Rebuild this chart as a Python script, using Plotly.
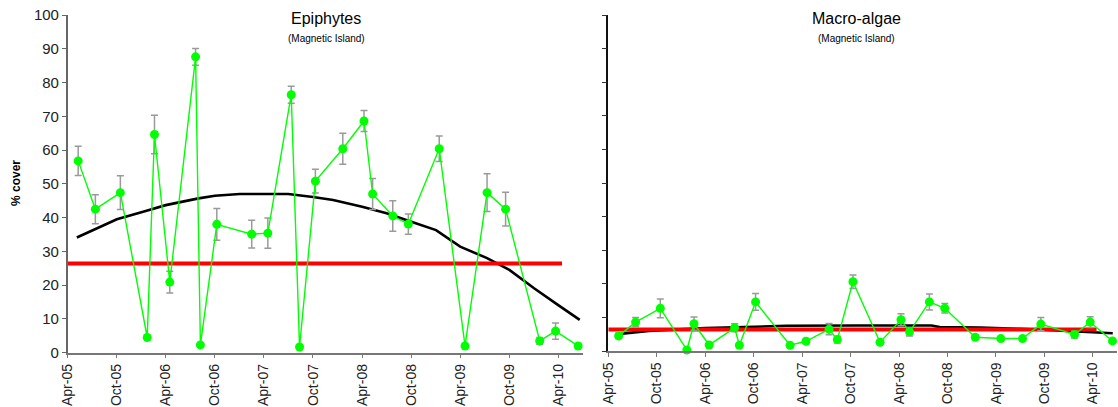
import plotly.graph_objects as go

# ---------------- data ----------------
sample_dates = [
    "2005-05-10", "2005-07-13", "2005-10-14", "2006-01-22", "2006-02-18",
    "2006-04-16", "2006-07-21", "2006-08-08", "2006-10-08", "2007-02-15",
    "2007-04-16", "2007-07-12", "2007-08-12", "2007-10-10", "2008-01-20",
    "2008-04-08", "2008-05-10", "2008-07-24", "2008-09-20", "2009-01-13",
    "2009-04-19", "2009-07-10", "2009-09-17", "2010-01-22", "2010-03-22",
    "2010-06-14",
]

epi_cover = [56.8, 42.5, 47.4, 4.5, 64.6, 20.9, 87.6, 2.3, 38.0, 35.1,
             35.4, 76.4, 1.7, 50.8, 60.4, 68.6, 47.0, 40.5, 38.1, 60.4,
             2.0, 47.4, 42.5, 3.5, 6.4, 2.0]
epi_se = [4.3, 4.3, 5.0, 0.4, 5.7, 3.2, 2.5, 0.4, 4.7, 4.1,
          4.5, 2.5, 0.4, 3.5, 4.6, 3.1, 4.6, 4.5, 3.0, 3.8,
          0.4, 5.6, 5.0, 1.0, 2.4, 0.4]

mac_cover = [4.5, 8.6, 12.7, 0.3, 8.1, 1.8, 6.9, 1.7, 14.6, 1.7,
             2.9, 6.5, 3.4, 20.6, 2.6, 9.3, 5.7, 14.6, 12.7, 4.1,
             3.7, 3.7, 8.0, 4.9, 8.6, 3.0]
mac_se = [0.8, 1.4, 2.8, 0.3, 2.0, 0.4, 1.2, 0.4, 2.5, 0.4,
          0.5, 1.7, 1.0, 2.0, 0.4, 1.8, 1.2, 2.4, 1.4, 0.5,
          0.4, 0.5, 2.0, 1.0, 1.6, 0.4]

epi_trend_dates = ["2005-05-05", "2005-10-01", "2006-01-10", "2006-04-01",
                   "2006-08-01", "2006-10-01", "2007-01-01", "2007-07-01",
                   "2007-10-01", "2007-12-15", "2008-04-01", "2008-07-01",
                   "2008-10-01", "2009-01-01", "2009-04-01", "2009-07-10",
                   "2009-10-01", "2010-01-01", "2010-04-01", "2010-06-20"]
epi_trend = [34.1, 39.5, 41.8, 43.7, 45.7, 46.5, 47.0, 47.0,
             46.1, 45.2, 43.2, 41.3, 38.8, 36.3, 31.4, 28.0,
             24.5, 19.1, 14.1, 9.7]

mac_trend_dates = ["2005-05-15", "2005-09-01", "2006-04-01", "2006-08-01",
                   "2007-02-01", "2007-11-01", "2008-08-01", "2008-09-01",
                   "2009-02-01", "2009-07-01", "2010-01-01", "2010-06-15"]
mac_trend = [5.1, 6.0, 6.8, 7.1, 7.5, 7.6, 7.6, 7.1, 7.0, 6.6, 6.0, 5.3]

mean_dates = ["2005-04-01", "2010-04-15"]
epi_mean = [26.4, 26.4]
mac_mean = [6.4, 6.4]

tick_dates = ["2005-04-01", "2005-10-01", "2006-04-01", "2006-10-01",
              "2007-04-01", "2007-10-01", "2008-04-01", "2008-10-01",
              "2009-04-01", "2009-10-01", "2010-04-01"]
tick_labels = ["Apr-05", "Oct-05", "Apr-06", "Oct-06", "Apr-07", "Oct-07",
               "Apr-08", "Oct-08", "Apr-09", "Oct-09", "Apr-10"]
y_ticks = [0, 10, 20, 30, 40, 50, 60, 70, 80, 90, 100]

titles = ["Epiphytes", "Macro-algae"]
subtitle = "(Magnetic Island)"
y_title = "% cover"

# ---------------- figure ----------------
W, H = 1118, 407
FONT = "Liberation Sans, Arial, sans-serif"
GREEN = "#00FF00"

fig = go.Figure()

panels = [
    ("x", "y", epi_cover, epi_se, epi_trend_dates, epi_trend, epi_mean),
    ("x2", "y2", mac_cover, mac_se, mac_trend_dates, mac_trend, mac_mean),
]
for xa, ya, cov, se, tdates, tvals, mvals in panels:
    fig.add_trace(go.Scatter(
        x=tdates, y=tvals, xaxis=xa, yaxis=ya, mode="lines",
        line=dict(color="black", width=2.6), hoverinfo="skip", showlegend=False))
    fig.add_trace(go.Scatter(
        x=mean_dates, y=mvals, xaxis=xa, yaxis=ya, mode="lines",
        line=dict(color="#FF0000", width=4), hoverinfo="skip", showlegend=False))
    fig.add_trace(go.Scatter(
        x=sample_dates, y=cov, xaxis=xa, yaxis=ya, mode="lines+markers",
        line=dict(color=GREEN, width=1.4),
        marker=dict(color=GREEN, size=9, line=dict(width=0)),
        error_y=dict(type="data", array=se, visible=True, color="#9a9a9a",
                     thickness=1.5, width=3.5),
        cliponaxis=False, showlegend=False))

def px_x(p):
    return p / W

def px_y(p):
    return 1 - p / H

xcommon = dict(
    type="date", range=["2005-04-01", "2010-07-01"],
    tickmode="array", tickvals=tick_dates, ticktext=tick_labels,
    tickangle=-90, ticks="outside", ticklen=4, tickcolor="#777777",
    showline=True, linecolor="#777777", linewidth=1.5,
    showgrid=False, zeroline=False, automargin=False,
    ticklabeloverflow="allow",
    tickfont=dict(family=FONT, size=14, color="#222222"),
)

fig.update_layout(
    width=W, height=H,
    margin=dict(l=0, r=0, t=0, b=0),
    paper_bgcolor="white", plot_bgcolor="white",
    xaxis=dict(domain=[px_x(67.7), px_x(582.7)], anchor="y", **xcommon),
    xaxis2=dict(domain=[px_x(608.3), px_x(1117)], anchor="y2", **xcommon),
    yaxis=dict(domain=[px_y(352.7), px_y(15)], anchor="x", range=[0, 100],
               tickvals=y_ticks, ticks="outside", ticklen=4,
               tickcolor="#666666", showline=True, linecolor="#666666",
               linewidth=1.5, showgrid=False, zeroline=False, automargin=False,
               ticklabeloverflow="allow",
               tickfont=dict(family=FONT, size=15, color="#222222")),
    yaxis2=dict(domain=[px_y(351), px_y(15)], anchor="x2", range=[0, 100],
                tickvals=y_ticks, ticks="outside", ticklen=5,
                tickcolor="#333333", showticklabels=False, automargin=False,
                showline=True, linecolor="#111111", linewidth=1.5,
                showgrid=False, zeroline=False),
    showlegend=False,
)

annots = [
    dict(text=titles[0], x=px_x(326), y=px_y(18), size=16),
    dict(text=subtitle, x=px_x(326), y=px_y(38), size=10),
    dict(text=titles[1], x=px_x(856), y=px_y(18), size=16),
    dict(text=subtitle, x=px_x(856), y=px_y(38), size=10),
]
for a in annots:
    fig.add_annotation(text=a["text"], x=a["x"], y=a["y"], xref="paper",
                       yref="paper", showarrow=False, xanchor="center",
                       yanchor="middle",
                       font=dict(family=FONT, size=a["size"], color="black"))

fig.add_annotation(text="<b>" + y_title + "</b>", x=px_x(16), y=px_y(183),
                   xref="paper", yref="paper", showarrow=False, textangle=-90,
                   xanchor="center", yanchor="middle",
                   font=dict(family=FONT, size=12, color="black"))

fig.write_html(
    "out.html",
    config={"displayModeBar": False},
    post_script="document.body.style.margin='0';document.body.style.overflow='hidden';",
)
